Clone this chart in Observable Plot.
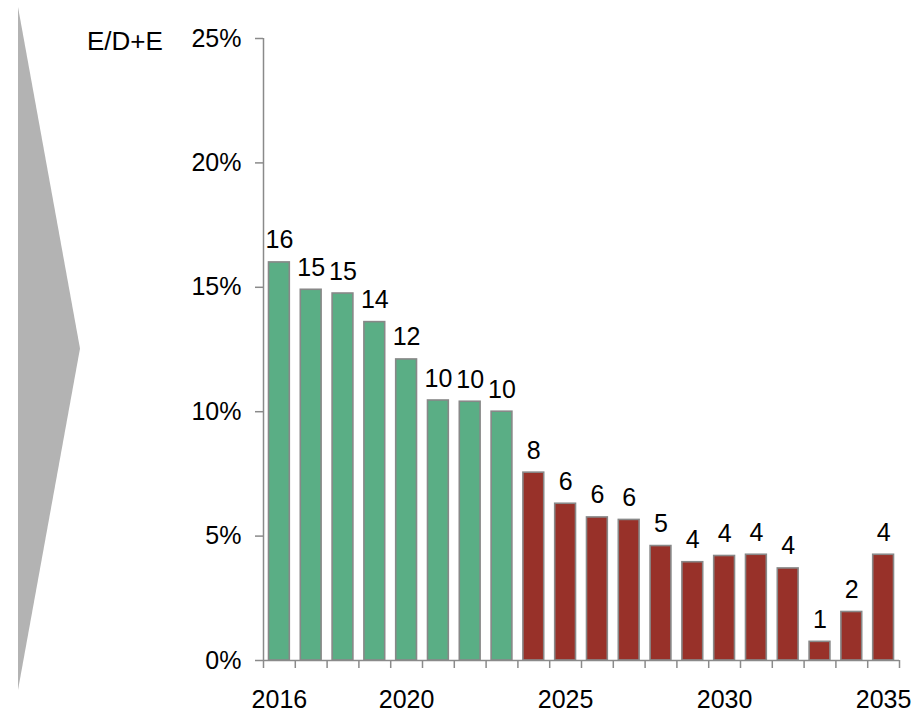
<!DOCTYPE html>
<html>
<head>
<meta charset="utf-8">
<script src="https://cdn.jsdelivr.net/npm/d3@7"></script>
<script src="https://cdn.jsdelivr.net/npm/@observablehq/plot@0.6"></script>
<style>
  html, body { margin: 0; padding: 0; background: #fff; }
  #wrap { position: relative; width: 924px; height: 715px; font-family: "Liberation Sans", Arial, sans-serif; }
  #chevron { position: absolute; left: 18px; top: 7px; width: 62px; height: 683px; background: #b3b3b3;
             clip-path: polygon(0 0, 100% 50%, 0 100%); }
  #ylabel { position: absolute; left: 87px; top: 26px; font-size: 26px; line-height: 30px; color: #000; }
  #chart { position: absolute; left: 0; top: 0; }
</style>
</head>
<body>
<div id="wrap">
  <div id="chevron"></div>
  <div id="chart"></div>
  <div id="ylabel">E/D+E</div>
</div>
<script>
const years = [2016, 2017, 2018, 2019, 2020, 2021, 2022, 2023, 2024, 2025,
               2026, 2027, 2028, 2029, 2030, 2031, 2032, 2033, 2034, 2035];
const values = [16.0, 14.9, 14.75, 13.6, 12.1, 10.45, 10.4, 10.0, 7.55, 6.3,
                5.75, 5.65, 4.6, 3.95, 4.2, 4.25, 3.7, 0.75, 1.95, 4.25];
const phases = ["A", "A", "A", "A", "A", "A", "A", "A", "B", "B",
                "B", "B", "B", "B", "B", "B", "B", "B", "B", "B"];
const yTicks = [0, 5, 10, 15, 20, 25];
const xTickLabels = [2016, 2020, 2025, 2030, 2035];

const data = years.map((year, i) => ({year, value: values[i], phase: phases[i]}));
const boundaries = years.map(y => y - 0.5).concat([years[years.length - 1] + 0.5]);

const axisColor = "#8a8a8a";
const fs = 25;

const chart = Plot.plot({
  width: 924,
  height: 715,
  marginLeft: 263,
  marginRight: 25,
  marginTop: 38,
  marginBottom: 55,
  style: {fontFamily: "'Liberation Sans', Arial, sans-serif", fontSize: fs + "px", color: "#000", background: "transparent"},
  x: {type: "linear", domain: [years[0] - 0.5, years[years.length - 1] + 0.5]},
  y: {domain: [0, 25]},
  color: {domain: ["A", "B"], range: ["#5aae85", "#983129"]},
  marks: [
    Plot.rectY(data, {
      x1: d => d.year - 0.5, x2: d => d.year + 0.5, y1: 0, y2: "value",
      fill: "phase", stroke: "#888888", strokeWidth: 1.6,
      insetLeft: 5.5, insetRight: 5.5
    }),
    Plot.ruleX([boundaries[0]], {y1: 0, y2: 25, stroke: axisColor, strokeWidth: 1.5}),
    Plot.ruleY([0], {stroke: axisColor, strokeWidth: 1.5}),
    Plot.axisY({ticks: yTicks, tickFormat: d => d + "%", tickSize: 8, tickPadding: 14,
                stroke: axisColor, strokeWidth: 1.5, fill: "#000", fontSize: fs, label: null}),
    Plot.axisX({ticks: boundaries, tickFormat: () => "", tickSize: 8, stroke: axisColor, strokeWidth: 1.5, label: null}),
    Plot.axisX({ticks: xTickLabels, tickFormat: d => String(d), tickSize: 0, tickPadding: 30,
                fill: "#000", fontSize: fs, label: null}),
    Plot.text(data, {x: "year", y: "value", text: d => String(Math.round(d.value)),
                     dy: -22, fill: "#000", fontSize: fs})
  ]
});
document.getElementById("chart").appendChild(chart);
</script>
</body>
</html>
